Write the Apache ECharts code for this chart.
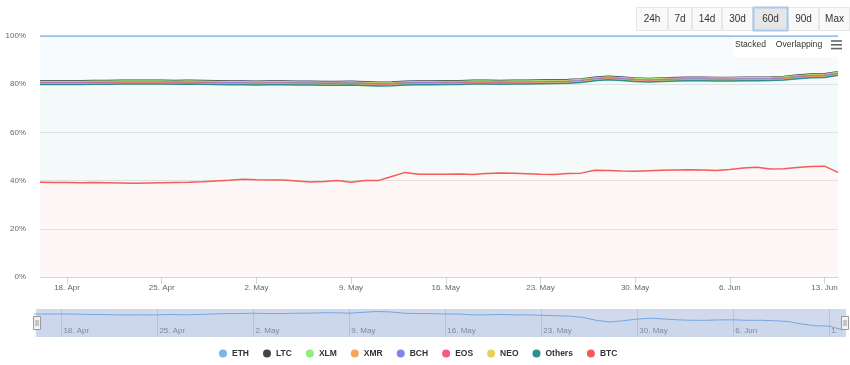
<!DOCTYPE html>
<html><head><meta charset="utf-8">
<script src="https://cdn.jsdelivr.net/npm/echarts@6/dist/echarts.min.js"></script>
<style>html,body{margin:0;padding:0;background:#fff}#chart{width:850px;height:365px}</style>
</head><body><div id="chart"></div>
<script>
const categories = [
 '16. Apr','17. Apr','18. Apr','19. Apr','20. Apr','21. Apr','22. Apr','23. Apr','24. Apr','25. Apr',
 '26. Apr','27. Apr','28. Apr','29. Apr','30. Apr','1. May','2. May','3. May','4. May','5. May',
 '6. May','7. May','8. May','9. May','10. May','11. May','12. May','13. May','14. May','15. May',
 '16. May','17. May','18. May','19. May','20. May','21. May','22. May','23. May','24. May','25. May',
 '26. May','27. May','28. May','29. May','30. May','31. May','1. Jun','2. Jun','3. Jun','4. Jun',
 '5. Jun','6. Jun','7. Jun','8. Jun','9. Jun','10. Jun','11. Jun','12. Jun','13. Jun','14. Jun'
];
const yTicks = ['0%','20%','40%','60%','80%','100%'];
const rangeButtons = ['24h','7d','14d','30d','60d','90d','Max'];
const selectedRange = '60d';
const viewModes = ['Stacked','Overlapping'];

const btc = [39.3,39.2,39.2,39.1,39.2,39.1,39.0,38.9,39.0,39.1, 39.2,39.3,39.5,39.8,40.1,40.6,40.4,40.3,40.2,39.8,
 39.4,39.6,40.0,39.3,40.0,40.0,41.7,43.4,42.6,42.6, 42.6,42.7,42.5,42.9,43.2,43.0,42.8,42.6,42.5,42.9,
 43.1,44.3,44.2,44.0,43.9,44.1,44.3,44.4,44.5,44.4, 44.2,44.6,45.2,45.5,44.8,44.9,45.4,45.9,46.0,43.4];
const others = [40.6,40.7,40.7,40.8,40.8,40.9,41.1,41.2,41.1,41.0, 40.8,40.8,40.5,40.1,39.7,39.2,39.3,39.5,39.6,39.9,
 40.3,40.0,39.6,40.4,39.5,39.3,37.7,36.3,37.2,37.2, 37.3,37.2,37.6,37.2,36.8,37.1,37.3,37.6,37.8,37.5,
 37.6,37.1,37.6,37.5,37.2,36.8,36.8,36.9,36.9,37.0, 37.1,36.7,36.2,35.9,36.7,36.8,36.9,36.8,36.8,40.3];
const neo = [0.20,0.20,0.21,0.21,0.20,0.20,0.20,0.21,0.21,0.21, 0.20,0.20,0.20,0.19,0.19,0.20,0.20,0.20,0.21,0.21,
 0.20,0.20,0.20,0.20,0.19,0.19,0.19,0.19,0.20,0.20, 0.20,0.20,0.20,0.20,0.20,0.19,0.19,0.19,0.20,0.20,
 0.20,0.20,0.21,0.21,0.20,0.20,0.20,0.20,0.20,0.20, 0.21,0.21,0.21,0.21,0.21,0.21,0.21,0.21,0.21,0.21];
const eos = [0.25,0.25,0.24,0.24,0.25,0.25,0.25,0.24,0.24,0.24, 0.25,0.25,0.25,0.26,0.26,0.25,0.25,0.25,0.24,0.24,
 0.25,0.25,0.25,0.25,0.26,0.26,0.26,0.26,0.25,0.25, 0.25,0.25,0.25,0.25,0.25,0.26,0.26,0.26,0.25,0.25,
 0.25,0.25,0.24,0.24,0.25,0.25,0.25,0.25,0.25,0.25, 0.24,0.24,0.24,0.24,0.24,0.24,0.24,0.24,0.24,0.24];
const bch = [0.30,0.30,0.30,0.30,0.30,0.30,0.30,0.30,0.31,0.31, 0.31,0.31,0.30,0.30,0.30,0.30,0.29,0.29,0.29,0.30,
 0.30,0.30,0.30,0.31,0.31,0.31,0.31,0.31,0.31,0.31, 0.31,0.31,0.31,0.31,0.31,0.30,0.30,0.30,0.30,0.30,
 0.31,0.31,0.31,0.31,0.31,0.31,0.31,0.31,0.31,0.31, 0.32,0.32,0.32,0.32,0.32,0.32,0.32,0.32,0.32,0.32];
const xmr = [0.20,0.20,0.20,0.20,0.20,0.20,0.20,0.20,0.20,0.20, 0.20,0.20,0.20,0.20,0.20,0.20,0.20,0.20,0.20,0.20,
 0.20,0.20,0.20,0.20,0.20,0.20,0.20,0.20,0.20,0.20, 0.20,0.20,0.20,0.20,0.20,0.20,0.20,0.20,0.20,0.20,
 0.20,0.20,0.20,0.20,0.20,0.20,0.20,0.20,0.20,0.20, 0.20,0.20,0.20,0.20,0.20,0.20,0.20,0.20,0.20,0.20];
const xlm = [0.24,0.24,0.24,0.25,0.25,0.25,0.25,0.25,0.25,0.25, 0.25,0.25,0.25,0.25,0.25,0.25,0.25,0.25,0.25,0.25,
 0.25,0.25,0.25,0.26,0.26,0.26,0.26,0.26,0.26,0.26, 0.26,0.26,0.26,0.26,0.26,0.26,0.26,0.26,0.26,0.26,
 0.26,0.26,0.26,0.26,0.26,0.26,0.26,0.26,0.26,0.26, 0.27,0.27,0.27,0.27,0.27,0.27,0.27,0.27,0.27,0.27];
const ltc = [0.31,0.31,0.31,0.30,0.30,0.30,0.30,0.30,0.29,0.29, 0.29,0.29,0.30,0.30,0.30,0.30,0.31,0.31,0.31,0.30,
 0.30,0.30,0.30,0.29,0.28,0.28,0.28,0.28,0.28,0.28, 0.28,0.28,0.28,0.28,0.28,0.29,0.29,0.29,0.29,0.29,
 0.28,0.28,0.28,0.28,0.28,0.28,0.28,0.28,0.28,0.28, 0.26,0.26,0.26,0.26,0.26,0.26,0.26,0.26,0.26,0.26];
const eth = [18.6,18.6,18.6,18.6,18.5,18.5,18.4,18.4,18.4,18.4, 18.5,18.4,18.5,18.6,18.7,18.7,18.8,18.7,18.7,18.8,
 18.8,18.9,18.9,18.8,19.0,19.2,19.1,18.8,18.7,18.7, 18.6,18.6,18.4,18.4,18.5,18.4,18.4,18.3,18.2,18.1,
 17.8,17.1,16.7,17.0,17.4,17.6,17.4,17.2,17.1,17.1, 17.2,17.2,17.1,17.1,17.0,16.8,16.2,15.8,15.7,14.8];

const legendOrder = ['ETH','LTC','XLM','XMR','BCH','EOS','NEO','Others','BTC'];
const stackDefs = [
  ['BTC', btc, '#f45b5b'], ['Others', others, '#2b908f'], ['NEO', neo, '#e4d354'],
  ['EOS', eos, '#f15c80'], ['BCH', bch, '#8085e9'], ['XMR', xmr, '#f7a35c'],
  ['XLM', xlm, '#90ed7d'], ['LTC', ltc, '#434348'], ['ETH', eth, '#7cb5ec']
];

const FONT = 'Liberation Sans, Arial, Helvetica, sans-serif';
const tickShown = (i) => (i - 2) % 7 === 0;

const series = stackDefs.map(([name, data, color], k) => ({
  name, type: 'line', stack: 'total', data,
  xAxisIndex: 0, yAxisIndex: 0,
  z: 12 - k,
  symbol: 'none', showSymbol: false,
  lineStyle: { width: 1.5, color },
  itemStyle: { color },
  areaStyle: { color, opacity: 0.05 },
  emphasis: { disabled: true },
  silent: true
}));
series.push({
  name: 'nav', type: 'line', data: eth, xAxisIndex: 1, yAxisIndex: 1,
  symbol: 'none', showSymbol: false,
  lineStyle: { width: 1, color: '#7cb5ec' },
  areaStyle: { color: '#7cb5ec', opacity: 0.05 },
  silent: true
});

const btnEdges = [636, 668, 692, 722, 753, 788, 819, 850];
const graphics = [];
graphics.push({ type: 'rect', z: 100, shape: { x: 733, y: 37.5, width: 117, height: 19.5 }, style: { fill: '#ffffff' } });
rangeButtons.forEach((b, i) => {
  const x0 = btnEdges[i], w = btnEdges[i + 1] - btnEdges[i];
  const sel = b === selectedRange;
  graphics.push({ type: 'rect', z: sel ? 102 : 101,
    shape: { x: x0 + 0.5, y: 7.5, width: w - 1, height: 23 },
    style: { fill: sel ? '#e6e6e6' : '#f9f9f9', stroke: sel ? '#a8c9f0' : '#e6e6e6', lineWidth: sel ? 2 : 1 } });
  graphics.push({ type: 'text', z: 103, x: x0 + w / 2, y: 19.5,
    style: { text: b, font: '10px ' + FONT, fill: '#333333', align: 'center', verticalAlign: 'middle', textAlign: 'center', textVerticalAlign: 'middle' } });
});
graphics.push({ type: 'text', z: 103, x: 750.5, y: 44.5,
  style: { text: viewModes[0], font: '8.6px ' + FONT, fill: '#333333', align: 'center', verticalAlign: 'middle', textAlign: 'center', textVerticalAlign: 'middle' } });
graphics.push({ type: 'text', z: 103, x: 799, y: 44.5,
  style: { text: viewModes[1], font: '8.6px ' + FONT, fill: '#333333', align: 'center', verticalAlign: 'middle', textAlign: 'center', textVerticalAlign: 'middle' } });
[41, 44.8, 48.6].forEach(yy => graphics.push({ type: 'line', z: 103,
  shape: { x1: 831, y1: yy, x2: 842, y2: yy }, style: { stroke: '#666666', lineWidth: 1.6 } }));

const chart = echarts.init(document.getElementById('chart'), null, { renderer: 'canvas' });
chart.setOption({
  animation: false,
  backgroundColor: '#ffffff',
  textStyle: { fontFamily: FONT },
  grid: [
    { left: 40, right: 12, top: 36, bottom: 88 },
    { left: 34, right: 7, top: 309, height: 28 }
  ],
  legend: {
    data: legendOrder, left: 214, top: 344, icon: 'circle',
    itemWidth: 8, itemHeight: 8, itemGap: 14, selectedMode: false,
    textStyle: { fontSize: 8.5, fontWeight: 'bold', color: '#333333', fontFamily: FONT }
  },
  xAxis: [
    { type: 'category', gridIndex: 0, data: categories, boundaryGap: false,
      axisLine: { lineStyle: { color: '#ccd6eb', width: 1 } },
      axisTick: { show: true, interval: tickShown, length: 7, lineStyle: { color: '#ccd6eb' } },
      axisLabel: { interval: tickShown, margin: 7, fontSize: 8, color: '#666666', fontFamily: FONT },
      splitLine: { show: false } },
    { type: 'category', gridIndex: 1, data: categories, boundaryGap: false,
      axisLine: { show: false }, axisTick: { show: false },
      axisLabel: { inside: true, interval: tickShown, margin: 2, fontSize: 8, color: '#8a8a8a', align: 'left',
        padding: [0, 0, 0, 2], fontFamily: FONT,
        formatter: (v, i) => (i === 58 ? '1.' : v) },
      splitLine: { show: true, interval: tickShown, lineStyle: { color: '#e0e0e0', width: 1 } } }
  ],
  yAxis: [
    { type: 'value', gridIndex: 0, min: 0, max: 100, interval: 20,
      axisLine: { show: false }, axisTick: { show: false },
      axisLabel: { margin: 14, fontSize: 8, color: '#666666', fontFamily: FONT,
        formatter: (v) => yTicks[Math.round(v / 20)] },
      splitLine: { lineStyle: { color: '#e6e6e6', width: 1 } } },
    { type: 'value', gridIndex: 1, min: 13.1, max: 19.8, show: false,
      axisLine: { show: false }, axisTick: { show: false }, axisLabel: { show: false }, splitLine: { show: false } }
  ],
  dataZoom: [{
    type: 'slider', xAxisIndex: 0, start: 0, end: 100, filterMode: 'none',
    left: 35, right: 5, top: 309, height: 28,
    showDataShadow: false, showDetail: false, brushSelect: false, zoomLock: true,
    moveHandleSize: 0, moveHandleStyle: { opacity: 0 },
    backgroundColor: 'rgba(0,0,0,0)', borderColor: 'rgba(0,0,0,0)',
    fillerColor: 'rgba(102,133,194,0.3)',
    handleIcon: 'path://M0,0 L7,0 L7,13 L0,13 Z M2.5,3.5 L2.5,9.5 M4.5,3.5 L4.5,9.5',
    handleSize: 13,
    handleStyle: { color: '#f2f2f2', borderColor: '#999999', borderWidth: 1 },
    emphasis: { handleStyle: { color: '#f2f2f2', borderColor: '#999999' } },
    textStyle: { color: 'rgba(0,0,0,0)' }
  }],
  graphic: { elements: graphics },
  series
});
</script></body></html>
